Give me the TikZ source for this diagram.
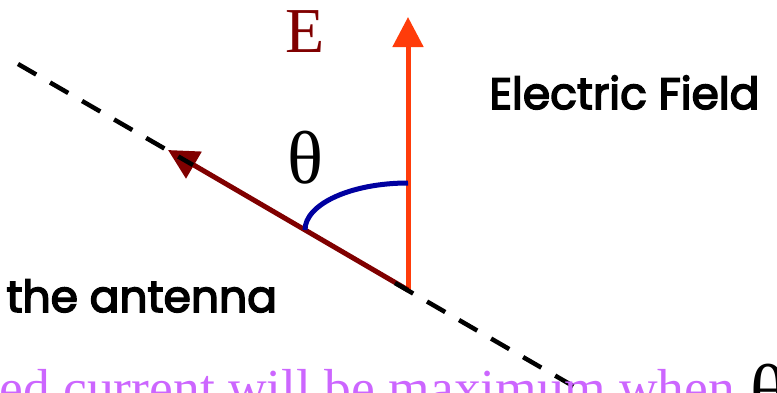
\documentclass[tikz,border=0pt]{standalone}
\usepackage{fontspec}
\setmainfont{Liberation Serif}
\newfontfamily\labelfont[FakeBold=3.5]{Poppins}
\usetikzlibrary{arrows.meta}
\definecolor{fieldred}{RGB}{255,60,10}
\definecolor{antennared}{RGB}{128,0,0}
\definecolor{arcblue}{RGB}{0,0,160}
\definecolor{notepurple}{RGB}{204,102,255}

\begin{document}
\begin{tikzpicture}[x=1pt,y=-1pt,line width=5pt,
  bigtip/.style={-{Triangle[length=30pt,width=30pt]}},
  axisline/.style={black,line width=4.5pt,dash pattern=on 21pt off 16pt},
  sanslabel/.style={anchor=base west,inner sep=0pt,font=\labelfont\fontsize{44}{44}\selectfont}]
  \useasboundingbox (0,0) rectangle (777,392);
  \clip (0,0) rectangle (777,392);

  \coordinate (O) at (408,290);
  \coordinate (E1) at (408,17);
  \coordinate (A1) at (168,150);
  \coordinate (R1) at (408,183);

  \coordinate (D1) at (18,64);
  \coordinate (D2) at (193,165);
  \coordinate (D3) at (395,283);
  \coordinate (D4) at (580,390);

  % field and antenna
  \draw[fieldred,bigtip] (O) -- (E1);
  \draw[antennared,bigtip] (O) -- (A1);

  % antenna axis
  \draw[axisline] (D1) -- (D2);
  \draw[axisline] (D3) -- (D4);

  % angle
  \draw[arcblue] (R1) arc[start angle=90,end angle=180,x radius=103pt,y radius=47pt];

  % labels
  \node[text=antennared,font=\fontsize{64}{64}\selectfont] (Elabel) at (305,32) {E};
  \node[font=\fontsize{75}{75}\selectfont] (theta) at (305,158) {θ};
  \node[sanslabel] (field) at (487,109) {Electric Field};
  \node[sanslabel] (antenna) at (4,312) {the antenna};
  \node[anchor=base west,inner sep=0pt,text=notepurple,font=\fontsize{53.5}{53.5}\selectfont] (note) at (-3,406) {ed current will be maximum when};
  \node[anchor=base west,inner sep=0pt,font=\fontsize{75}{75}\selectfont] (noteTheta) at (748,416) {θ};
\end{tikzpicture}
\end{document}
